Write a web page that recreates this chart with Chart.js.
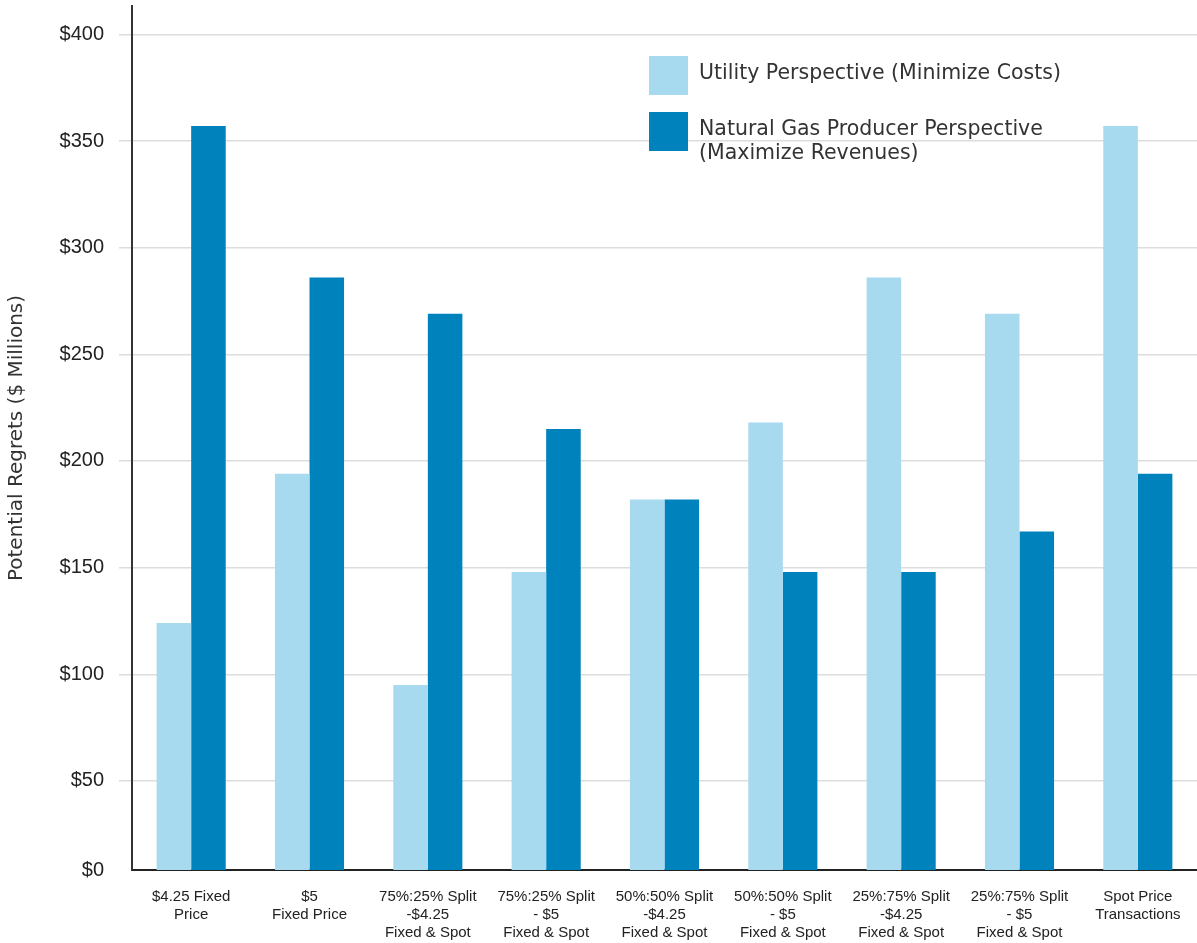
<!DOCTYPE html>
<html lang="en">
<head>
  <meta charset="UTF-8">
  <title>Potential Regrets</title>
  <script src="https://cdn.jsdelivr.net/npm/chart.js"></script>
  <style>
    html, body { margin: 0; padding: 0; background: #ffffff; }
    .chart-container { position: relative; width: 1197px; height: 943px; }
  </style>
</head>
<body>
  <div class="chart-container">
    <canvas id="regretsChart"></canvas>
  </div>

  <script>
    // Contract strategies along the x axis
    const categories = [
      ['$4.25 Fixed', 'Price'],
      ['$5', 'Fixed Price'],
      ['75%:25% Split', '-$4.25', 'Fixed & Spot'],
      ['75%:25% Split', '- $5', 'Fixed & Spot'],
      ['50%:50% Split', '-$4.25', 'Fixed & Spot'],
      ['50%:50% Split', '- $5', 'Fixed & Spot'],
      ['25%:75% Split', '-$4.25', 'Fixed & Spot'],
      ['25%:75% Split', '- $5', 'Fixed & Spot'],
      ['Spot Price', 'Transactions']
    ];

    // Potential regrets, $ millions
    const utilityValues  = [124, 194, 95, 148, 182, 218, 286, 269, 357];
    const producerValues = [357, 286, 269, 215, 182, 148, 148, 167, 194];

    const seriesNames = [
      ['Utility Perspective (Minimize Costs)'],
      ['Natural Gas Producer Perspective', '(Maximize Revenues)']
    ];

    const tickValues = [0, 50, 100, 150, 200, 250, 300, 350, 400];

    const Y_MIN = 8.25;
    const Y_MAX = 413.3;
    const LIGHT = '#a8daef';
    const DARK = '#0082bd';
    const GRID = '#dddddd';

    // legend drawn inside the plot, top right
    const insideLegend = {
      id: 'insideLegend',
      afterDraw(chart) {
        const ctx = chart.ctx;
        const boxes = [{ x: 649, y: 56 }, { x: 649, y: 112 }];
        ctx.save();
        ctx.font = '20.5px "DejaVu Sans"';
        ctx.textBaseline = 'middle';
        chart.data.datasets.forEach((ds, i) => {
          const b = boxes[i];
          ctx.fillStyle = ds.backgroundColor;
          ctx.fillRect(b.x, b.y, 39, 39);
          ctx.fillStyle = '#333333';
          ds.label.forEach((line, j) => {
            ctx.fillText(line, b.x + 50, b.y + 18 + j * 24);
          });
        });
        ctx.restore();
      }
    };

    const ctx = document.getElementById('regretsChart').getContext('2d');
    new Chart(ctx, {
      type: 'bar',
      data: {
        labels: categories,
        datasets: [
          { label: seriesNames[0], data: utilityValues, backgroundColor: LIGHT },
          { label: seriesNames[1], data: producerValues, backgroundColor: DARK }
        ]
      },
      options: {
        responsive: true,
        maintainAspectRatio: false,
        animation: false,
        layout: { padding: { top: 6, right: 0, bottom: 0, left: 0 } },
        categoryPercentage: 0.584,
        barPercentage: 1.0,
        plugins: {
          legend: { display: false },
          tooltip: { enabled: false }
        },
        scales: {
          x: {
            grid: { display: false },
            border: { display: true, color: '#222222', width: 2 },
            ticks: {
              color: '#222222',
              font: { family: '"Liberation Sans", Arial', size: 15, lineHeight: 1.2 },
              padding: 10,
              maxRotation: 0,
              autoSkip: false
            },
            afterFit(scale) { scale.height = 73; }
          },
          y: {
            min: Y_MIN,
            max: Y_MAX,
            afterBuildTicks(scale) {
              scale.ticks = tickValues.map(v => ({ value: v === 0 ? Y_MIN : v }));
            },
            afterFit(scale) {
              scale.width = 132;
              scale.paddingTop = 0;
              scale.paddingBottom = 0;
            },
            grid: {
              color: c => (c.tick && c.tick.value === Y_MIN ? 'rgba(0,0,0,0)' : GRID),
              tickColor: c => (c.tick && c.tick.value === Y_MIN ? 'rgba(0,0,0,0)' : GRID),
              lineWidth: 1.5,
              drawTicks: true,
              tickLength: 13
            },
            border: { display: true, color: '#333333', width: 2 },
            ticks: {
              color: '#222222',
              font: { family: '"Liberation Sans", Arial', size: 20 },
              padding: 15,
              callback: function(value) {
                return '$' + (value === Y_MIN ? 0 : value);
              }
            },
            title: {
              display: true,
              text: 'Potential Regrets ($ Millions)',
              color: '#333333',
              font: { family: '"DejaVu Sans"', size: 20 },
              padding: { top: 5, bottom: 0 }
            }
          }
        }
      },
      plugins: [insideLegend]
    });
  </script>
</body>
</html>
